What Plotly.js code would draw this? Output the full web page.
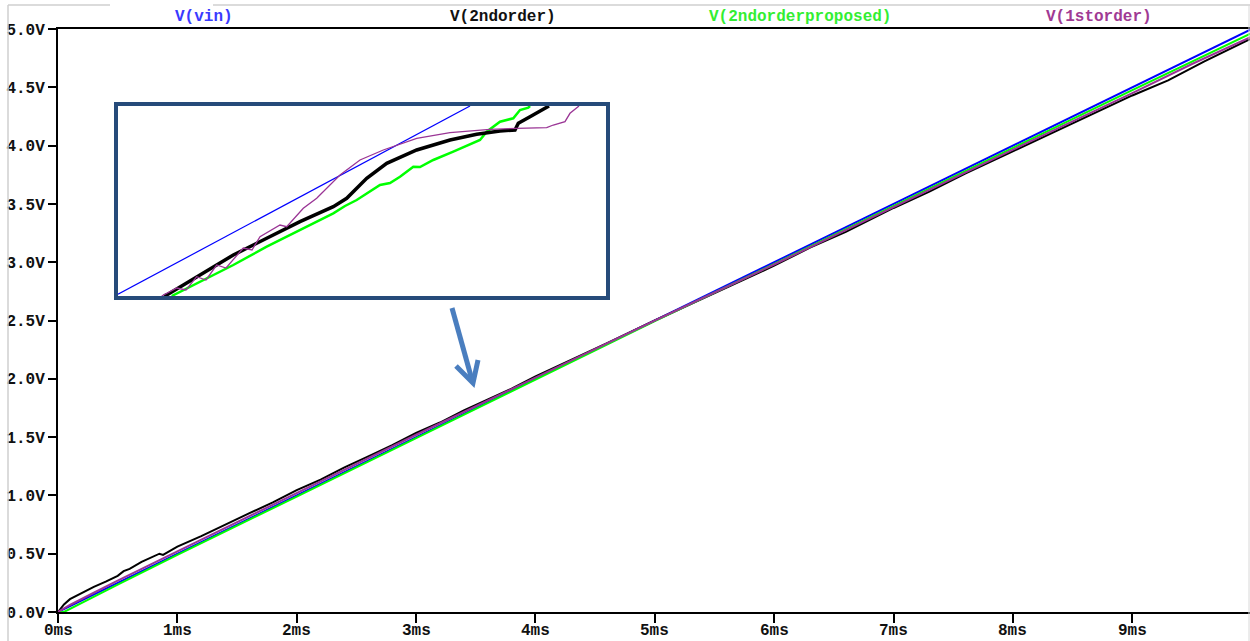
<!DOCTYPE html>
<html>
<head>
<meta charset="utf-8">
<script src="https://cdn.plot.ly/plotly-3.0.1.min.js"></script>
<style>
html,body{margin:0;padding:0;background:#fff;}
#chart{width:1250px;height:641px;}
</style>
</head>
<body>
<div id="chart"></div>
<script>
// ---------- main chart data (time in ms, voltage in V) ----------
var vinT = [0, 10];
var vinV = [0, 5.0];

var second_T = [0, 0.05, 0.1, 0.2, 0.3, 0.4, 0.5, 0.55, 0.6, 0.7, 0.8, 0.85, 0.88, 0.95, 1.0, 1.2, 1.4, 1.6, 1.8, 2.0, 2.2, 2.4, 2.6, 2.8, 3.0, 3.2, 3.4, 3.6, 3.8, 4.0, 4.3, 4.6, 5.0, 5.3, 5.6, 6.0, 6.3, 6.6, 7.0, 7.3, 7.6, 8.0, 8.3, 8.6, 9.0, 9.3, 9.6, 10];
var second_V = [0, 0.065, 0.11, 0.165, 0.215, 0.26, 0.31, 0.35, 0.37, 0.43, 0.475, 0.50, 0.49, 0.535, 0.56, 0.65, 0.75, 0.845, 0.94, 1.045, 1.135, 1.24, 1.335, 1.43, 1.535, 1.625, 1.73, 1.825, 1.915, 2.02, 2.16, 2.305, 2.5, 2.64, 2.78, 2.97, 3.125, 3.26, 3.465, 3.605, 3.76, 3.95, 4.095, 4.24, 4.43, 4.56, 4.72, 4.92];

var proposedT = [0, 0.05, 0.5, 1, 2, 3, 4, 5, 6, 7, 8, 9, 10];
var proposedV = [0, 0.0, 0.235, 0.49, 0.99, 1.49, 1.995, 2.495, 2.985, 3.485, 3.98, 4.475, 4.965];

var firstT = [0, 0.1, 0.3, 0.5, 1, 1.5, 2, 3, 4, 5, 6, 7, 8, 9, 9.5, 10];
var firstV = [0, 0.06, 0.165, 0.27, 0.52, 0.77, 1.02, 1.52, 2.01, 2.5, 2.98, 3.475, 3.965, 4.45, 4.70, 4.935];

// ---------- inset (zoomed detail) data, arbitrary units ----------
var inVinX = [0, 352];
var inVinY = [1.8, 190];

var inFirstX = [43.7, 58.7, 68, 78.7, 88, 98.7, 108, 125.3, 134, 142, 162, 168.7, 185.3, 198.7, 222, 242, 265.3, 298.7, 332, 372, 398.7, 428.7, 435.3, 447, 452, 458.7, 461];
var inFirstY = [0, 8, 6, 19.3, 16, 31, 28, 48, 46, 59.3, 71, 69.3, 87.7, 97.7, 121, 136, 146, 157.7, 163.3, 166.7, 167.7, 168.3, 171, 174.3, 182.7, 188.3, 190];

var inSecondX = [46, 48.7, 82, 115.3, 148.7, 182, 215.3, 228.7, 248.7, 268.7, 298.7, 332, 358.7, 382, 397, 400.3, 412, 428.7, 431];
var inSecondY = [0, 1, 21, 41, 57.7, 74.3, 89.3, 97.7, 117.7, 132.7, 146, 156, 161.7, 165, 166, 172.7, 179.3, 188.3, 190];

var inPropX = [53.7, 82, 115.3, 148.7, 182, 215.3, 227, 238.7, 262, 272, 282, 295.3, 302, 315.3, 335.3, 358.7, 362, 368.7, 382, 395.3, 402, 410.3, 412];
var inPropY = [0, 14.3, 31, 49.3, 66, 82.7, 90, 96, 111, 113, 119.3, 129.3, 129, 136, 144.3, 154.3, 156, 164.3, 174.3, 177.7, 186, 188.3, 190];

// ---------- ticks / labels ----------
var xTickVals = [0, 1, 2, 3, 4, 5, 6, 7, 8, 9];
var xTickText = ["0ms", "1ms", "2ms", "3ms", "4ms", "5ms", "6ms", "7ms", "8ms", "9ms"];
var yTickVals = [0, 0.5, 1.0, 1.5, 2.0, 2.5, 3.0, 3.5, 4.0, 4.5, 5.0];
var yTickText = ["0.0V", "0.5V", "1.0V", "1.5V", "2.0V", "2.5V", "3.0V", "3.5V", "4.0V", "4.5V", "5.0V"];
var seriesNames = ["V(vin)", "V(2ndorder)", "V(2ndorderproposed)", "V(1storder)"];

var cBlue = "#0000ff", cBlack = "#000000", cGreen = "#00ff00", cPurple = "#9a3595";
var labelColors = ["#3a3aff", "#111111", "#33ee33", "#a03a94"];

// pixel -> paper helpers (page layout geometry)
var W = 1250, H = 641, L = 58, T = 29, R = 0, B = 29;
var PW = W - L - R, PH = H - T - B;
function px(x) { return (x - L) / PW; }
function py(y) { return (H - B - y) / PH; }

var fam = "Liberation Mono, Courier New, monospace";
var font = {family: fam, size: 16, color: "#111", weight: 700};

var traces = [
  {x: vinT, y: vinV, mode: "lines", line: {color: cBlue, width: 2}, xaxis: "x", yaxis: "y"},
  {x: second_T, y: second_V, mode: "lines", line: {color: cBlack, width: 2}, xaxis: "x", yaxis: "y"},
  {x: proposedT, y: proposedV, mode: "lines", line: {color: cGreen, width: 2}, xaxis: "x", yaxis: "y"},
  {x: firstT, y: firstV, mode: "lines", line: {color: cPurple, width: 2}, xaxis: "x", yaxis: "y"},
  {x: inVinX, y: inVinY, mode: "lines", line: {color: cBlue, width: 1.2}, xaxis: "x2", yaxis: "y2"},
  {x: inPropX, y: inPropY, mode: "lines", line: {color: cGreen, width: 2.5}, xaxis: "x2", yaxis: "y2"},
  {x: inSecondX, y: inSecondY, mode: "lines", line: {color: cBlack, width: 3.5}, xaxis: "x2", yaxis: "y2"},
  {x: inFirstX, y: inFirstY, mode: "lines", line: {color: cPurple, width: 1.3}, xaxis: "x2", yaxis: "y2"}
];

var labelX = [204, 503, 800, 1099];
var annotations = seriesNames.map(function (n, i) {
  return {text: n, xref: "paper", yref: "paper", x: px(labelX[i]), y: py(17), showarrow: false,
          xanchor: "center", yanchor: "middle",
          font: {family: fam, size: 16, color: labelColors[i], weight: 700}};
});
// x tick labels (placed just under the tick marks)
xTickVals.forEach(function (v, i) {
  annotations.push({text: xTickText[i], xref: "x", yref: "paper", x: v, y: py(631), showarrow: false,
                    xanchor: "center", yanchor: "middle", font: font});
});

var arrowColor = "#4a7ebf";
var shapes = [
  // window frame lines
  {type: "line", xref: "paper", yref: "paper", x0: px(8), x1: px(110), y0: py(5), y1: py(5), line: {color: "#cfcfcf", width: 1.5}},
  {type: "line", xref: "paper", yref: "paper", x0: px(213), x1: px(1250), y0: py(5), y1: py(5), line: {color: "#cfcfcf", width: 1.5}},
  {type: "line", xref: "paper", yref: "paper", x0: px(8), x1: px(8), y0: py(5), y1: py(641), line: {color: "#cfcfcf", width: 1.5}},
  {type: "line", xref: "paper", yref: "paper", x0: px(1249), x1: px(1249), y0: py(5), y1: py(641), line: {color: "#d8d8d8", width: 1}},
  // inset frame
  {type: "rect", xref: "paper", yref: "paper", x0: px(116), x1: px(608), y0: py(104), y1: py(298), line: {color: "#264b7a", width: 4}},
  // arrow shaft + head
  {type: "line", xref: "paper", yref: "paper", x0: px(452), y0: py(308), x1: px(472), y1: py(380), line: {color: arrowColor, width: 5}},
  {type: "path", xref: "paper", yref: "paper",
   path: "M" + px(456) + "," + py(366) + " L" + px(473) + "," + py(383) + " L" + px(478) + "," + py(360),
   line: {color: arrowColor, width: 5}}
];

var layout = {
  width: W, height: H,
  margin: {l: L, r: R, t: T, b: B, pad: 0},
  paper_bgcolor: "#ffffff", plot_bgcolor: "#ffffff",
  showlegend: false,
  font: font,
  xaxis: {
    range: [0, 9.986], tickvals: xTickVals, showticklabels: false,
    showgrid: false, zeroline: false, showline: true, linecolor: "#000", linewidth: 2, mirror: true,
    ticks: "outside", ticklen: 9, tickwidth: 2, tickcolor: "#000",
    fixedrange: true
  },
  yaxis: {
    range: [0, 5.0], tickvals: yTickVals, ticktext: yTickText,
    showgrid: false, zeroline: false, showline: true, linecolor: "#000", linewidth: 2,
    ticks: "outside", ticklen: 8, tickwidth: 2, tickcolor: "#000",
    tickfont: font, fixedrange: true
  },
  xaxis2: {domain: [px(118), px(606)], range: [0, 488], anchor: "y2", visible: false, showgrid: false, zeroline: false},
  yaxis2: {domain: [py(296), py(106)], range: [0, 190], anchor: "x2", visible: false, showgrid: false, zeroline: false},
  annotations: annotations,
  shapes: shapes
};

Plotly.newPlot("chart", traces, layout, {staticPlot: true, displayModeBar: false});
</script>
</body>
</html>
